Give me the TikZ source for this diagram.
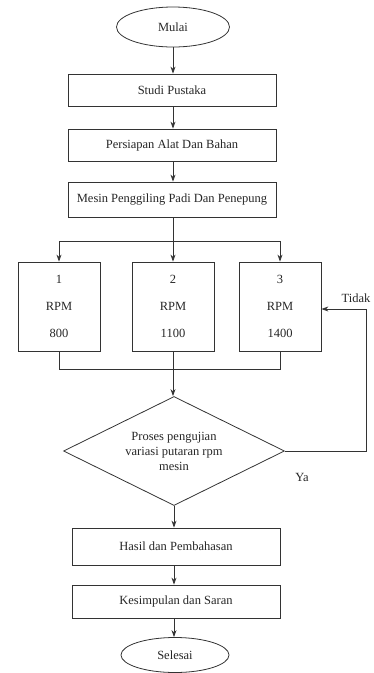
\documentclass[tikz,border=0pt]{standalone}
\usepackage{fontspec}
\setmainfont{Liberation Serif}
\usetikzlibrary{shapes.geometric,arrows.meta}
\begin{document}
\begin{tikzpicture}[x=1pt,y=-1pt,
  every node/.style={font=\fontsize{12.5}{15}\selectfont, text=black!85},
  line/.style={draw=black!80, line width=0.8pt},
  arr/.style={line, -{Stealth[length=7pt,width=5pt]}},
  procbox/.style={line, rectangle, minimum width=208pt, inner sep=1pt},
  rpmbox/.style={line, rectangle, minimum width=82pt, minimum height=89pt, align=center, inner sep=1pt},
  term/.style={line, ellipse, inner sep=1pt},
  decide/.style={line, diamond, aspect=2, minimum width=221pt, minimum height=109pt, align=center, inner sep=1pt}
]
\useasboundingbox (0,0) rectangle (373,673);

\node[term, minimum width=113pt, minimum height=40pt] (mulai) at (173,27) {Mulai};
\node[procbox, minimum height=32pt] (studi) at (172,90) {Studi Pustaka};
\node[procbox, minimum height=32pt] (persiapan) at (172,145) {Persiapan Alat Dan Bahan};
\node[procbox, minimum height=35pt] (mesin) at (172,199.5) {Mesin Penggiling Padi Dan Penepung};

\node[rpmbox] (b1) at (59,306.5) {1\\[12pt]RPM\\[12pt]800};
\node[rpmbox] (b2) at (173,306.5) {2\\[12pt]RPM\\[12pt]1100};
\node[rpmbox] (b3) at (280,306.5) {3\\[12pt]RPM\\[12pt]1400};

\node[decide] (dec) at (174,451) {Proses pengujian\\variasi putaran rpm\\mesin};

\node[procbox, minimum height=37pt] (hasil) at (176,546.5) {Hasil dan Pembahasan};
\node[procbox, minimum height=33pt] (kesim) at (176,601.5) {Kesimpulan dan Saran};
\node[term, minimum width=108pt, minimum height=35pt] (selesai) at (175,655) {Selesai};

\node (tidak) at (356,298) {Tidak};
\node (ya) at (302,477) {Ya};

\coordinate (split) at (173,241);
\coordinate (merge) at (173,369);
\coordinate (fbr) at (366,451);
\coordinate (fbt) at (366,309);

\draw[arr] (mulai.south) -- (mulai.south |- studi.north);
\draw[arr] (studi.south -| mulai.south) -- (persiapan.north -| mulai.south);
\draw[arr] (persiapan.south -| mulai.south) -- (mesin.north -| mulai.south);

\draw[arr] (mesin.south -| b2.north) -- (b2.north);
\draw[line] (split -| b1.north) -- (split -| b3.north);
\draw[arr] (split -| b1.north) -- (b1.north);
\draw[arr] (split -| b3.north) -- (b3.north);

\draw[line] (b1.south) -- (merge -| b1.south) -- (merge -| b3.south) -- (b3.south);
\draw[arr] (b2.south) -- (b2.south |- dec.north);

\draw[arr] (dec.east) -- (fbr) -- (fbt) -- (fbt -| b3.east);

\draw[arr] (dec.south) -- (dec.south |- hasil.north);
\draw[arr] (hasil.south -| dec.south) -- (kesim.north -| dec.south);
\draw[arr] (kesim.south -| dec.south) -- (selesai.north -| dec.south);
\end{tikzpicture}
\end{document}
